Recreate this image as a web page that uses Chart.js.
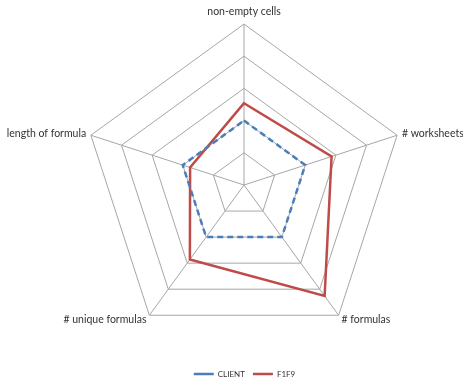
<!DOCTYPE html>
<html>
<head>
<meta charset="utf-8">
<script src="https://cdn.jsdelivr.net/npm/chart.js@4.4.1/dist/chart.umd.min.js"></script>
<style>
  html, body { margin: 0; padding: 0; background: #fff; }
  #wrap { width: 463px; height: 382px; }
</style>
</head>
<body>
<div id="wrap"><canvas id="myChart" width="463" height="382"></canvas></div>
<script>
const categories = ["non-empty cells", "# worksheets", "# formulas", "# unique formulas", "length of formula"];
const clientValues = [1, 1, 1, 1, 1];
const f1f9Values = [1.27, 1.43, 2.13, 1.43, 0.88];
const scaleMax = 2.5;
const scaleStep = 0.5;

const ctx = document.getElementById("myChart").getContext("2d");

// axis names drawn next to each spoke, Excel style
const axisTitles = {
  id: "axisTitles",
  afterDraw(chart) {
    const scale = chart.scales.r;
    const c = chart.ctx;
    c.save();
    c.font = "10.5px Lato";
    c.fillStyle = "#333333";
    chart.data.labels.forEach((label, i) => {
      const angle = scale.getIndexAngle(i);
      const s = Math.sin(angle);
      const top = Math.abs(s) < 0.1 && Math.cos(angle) > 0;
      const pos = scale.getPointPosition(i, scale.drawingArea + (top ? 8 : 5));
      c.textAlign = s > 0.1 ? "left" : s < -0.1 ? "right" : "center";
      c.textBaseline = top ? "bottom" : "middle";
      c.fillText(label, pos.x, pos.y + (top ? 1 : 0));
    });
    c.restore();
  },
};

new Chart(ctx, {
  type: "radar",
  data: {
    labels: categories,
    datasets: [
      {
        label: "CLIENT",
        data: clientValues,
        borderColor: "#4a7ebb",
        backgroundColor: "#4a7ebb",
        borderWidth: 2.5,
        borderDash: [6, 4],
        fill: false,
        pointRadius: 0,
      },
      {
        label: "F1F9",
        data: f1f9Values,
        borderColor: "#be4b48",
        backgroundColor: "#be4b48",
        borderWidth: 2.5,
        fill: false,
        pointRadius: 0,
      },
    ],
  },
  options: {
    responsive: false,
    animation: false,
    layout: {
      padding: { left: 83, right: 57, top: 8, bottom: -6 },
    },
    elements: { line: { tension: 0 } },
    plugins: {
      tooltip: { enabled: false },
      legend: {
        position: "bottom",
        labels: {
          usePointStyle: true,
          pointStyle: "line",
          pointStyleWidth: 20,
          padding: 8,
          color: "#333333",
          font: { family: "Lato", size: 8 },
        },
      },
    },
    scales: {
      r: {
        min: 0,
        max: scaleMax,
        ticks: { display: false, stepSize: scaleStep },
        grid: { color: "#a6a6a6", lineWidth: 1 },
        angleLines: { color: "#a6a6a6", lineWidth: 1 },
        pointLabels: { display: false },
      },
    },
  },
  plugins: [axisTitles],
});
</script>
</body>
</html>
